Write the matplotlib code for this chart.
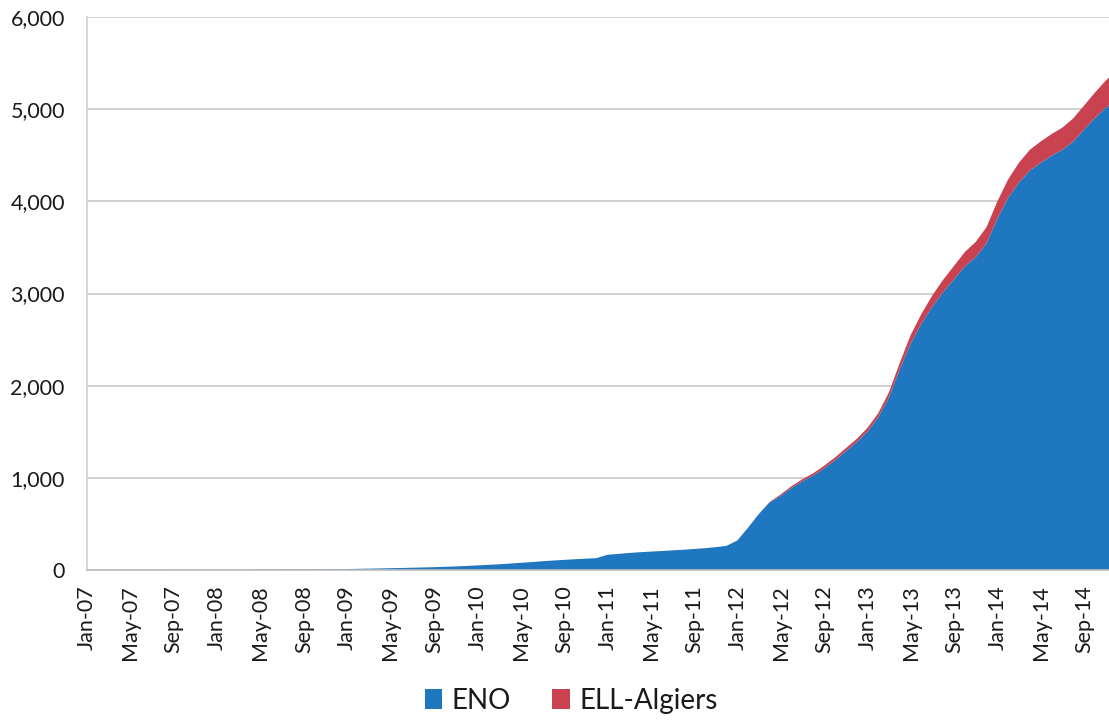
import matplotlib
matplotlib.use("Agg")
import matplotlib.pyplot as plt
import numpy as np
import pandas as pd
from matplotlib.patches import Patch

# Monthly cumulative totals, Jan-2007 .. Dec-2014
months = pd.date_range("2007-01-01", "2014-12-01", freq="MS")

total = [
    0, 0, 0, 1, 1, 1, 1, 2, 2, 2, 2, 3,                       # 2007
    3, 3, 4, 4, 5, 5, 6, 6, 7, 8, 9, 10,                      # 2008
    11, 13, 15, 17, 20, 22, 25, 28, 31, 35, 39, 44,           # 2009
    50, 56, 62, 70, 78, 86, 95, 103, 110, 117, 123, 129,      # 2010
    165, 175, 185, 193, 200, 206, 213, 220, 228, 237, 248, 262,  # 2011
    320, 460, 610, 740, 820, 910, 985, 1050, 1130, 1220, 1320, 1420,  # 2012
    1540, 1700, 1930, 2250, 2550, 2780, 2980, 3150, 3300, 3450, 3560, 3720,  # 2013
    4000, 4240, 4420, 4560, 4650, 4730, 4800, 4900, 5040, 5180, 5310, 5420,  # 2014
]

ell_algiers = [0] * 63 + [
    5, 15, 20, 22, 25, 28, 30, 32, 35,
    40, 45, 55, 70, 90, 105, 120, 135, 145, 155, 165, 175,
    185, 200, 215, 225, 230, 235, 240, 250, 260, 275, 295, 305,
]

eno = [t - r for t, r in zip(total, ell_algiers)]

series_names = ["ENO", "ELL-Algiers"]
series_colors = ["#1F77BF", "#C8424F"]

y_ticks = [0, 1000, 2000, 3000, 4000, 5000, 6000]

tick_idx = list(range(0, len(months), 4))
tick_labels = [months[i].strftime("%b-%y") for i in tick_idx]

plt.rcParams["font.family"] = ["Lato", "DejaVu Sans"]

fig = plt.figure(figsize=(11.09, 7.21), dpi=100)
ax = fig.add_axes([0.0785, 0.2094, 0.9215, 0.767])

x = np.arange(len(months))
ax.stackplot(x, eno, ell_algiers, colors=series_colors, linewidth=0, zorder=2)

ax.set_xlim(0, 94.3)
ax.set_ylim(0, 6000)

ax.set_yticks(y_ticks)
ax.set_yticklabels([f"{v:,}" for v in y_ticks])
ax.set_xticks(tick_idx)
ax.set_xticklabels(tick_labels, rotation=90, ha="center", va="top")

ax.tick_params(axis="both", length=0, labelsize=15.5, colors="#1A1A1A")
ax.tick_params(axis="x", pad=11)
ax.tick_params(axis="y", pad=16)

ax.grid(axis="y", color="#C9C9C9", linewidth=1.2, zorder=1)
ax.set_axisbelow(True)

for side in ["top", "right"]:
    ax.spines[side].set_visible(False)
ax.spines["left"].set_color("#D0D0D0")
ax.spines["left"].set_linewidth(1.2)
ax.spines["bottom"].set_color("#BDBDBD")
ax.spines["bottom"].set_linewidth(1.2)

handles = [Patch(facecolor=c, edgecolor="none") for c in series_colors]
fig.legend(handles, series_names, loc="center", bbox_to_anchor=(0.515, 0.028),
           ncol=2, frameon=False, fontsize=20, handlelength=0.62,
           handleheight=0.7, handletextpad=0.35, columnspacing=1.5,
           labelcolor="#1A1A1A")

fig.savefig("out.png", dpi=100, facecolor="white")
